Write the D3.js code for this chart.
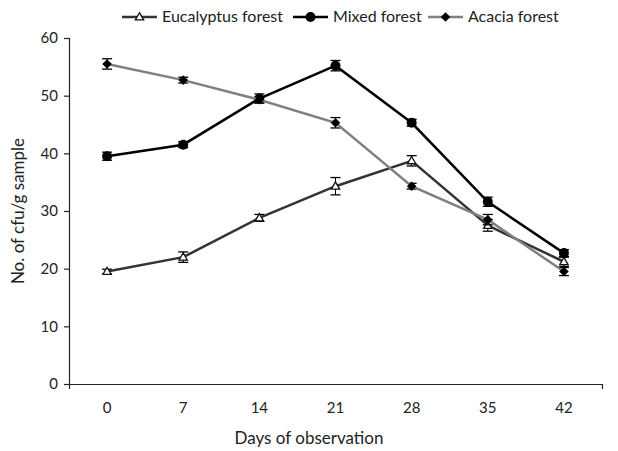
<!DOCTYPE html>
<html>
<head>
<meta charset="utf-8">
<script src="https://cdn.jsdelivr.net/npm/d3@7"></script>
<style>
  body { margin: 0; background: #fff; }
  text { font-family: Lato, "Open Sans", sans-serif; fill: #222; }
</style>
</head>
<body>
<div id="container"></div>
<script>
let w = 618;
let h = 451;

// data
let days = ['0', '7', '14', '21', '28', '35', '42'];
let eucalyptus = [19.5, 22.0, 28.8, 34.3, 38.7, 27.5, 21.2];
let eucalyptusErr = [0.4, 0.9, 0.6, 1.5, 0.9, 1.0, 0.8];
let mixed = [39.5, 41.5, 49.5, 55.2, 45.3, 31.6, 22.7];
let mixedErr = [0.7, 0.5, 0.8, 0.9, 0.6, 0.8, 0.6];
let acacia = [55.5, 52.7, 49.3, 45.3, 34.3, 28.5, 19.5];
let acaciaErr = [0.9, 0.5, 0.5, 0.9, 0.5, 0.9, 0.7];
let yTicks = [0, 10, 20, 30, 40, 50, 60];

let series = [
  {name: 'Eucalyptus forest', values: eucalyptus, err: eucalyptusErr, color: '#333333', marker: 'triangle'},
  {name: 'Mixed forest', values: mixed, err: mixedErr, color: '#000000', marker: 'circle'},
  {name: 'Acacia forest', values: acacia, err: acaciaErr, color: '#808080', marker: 'diamond'}
];

let mLeft = 69, mRight = 602, mTop = 38, mBottom = 384;

let viz = d3.select('#container').append('svg')
    .attr('width', w)
    .attr('height', h);

let x = d3.scaleBand().domain(days).range([mLeft, mRight]);
let y = d3.scaleLinear().domain([0, 60]).range([mBottom, mTop]);

// y axis
let yAxis = viz.append('g')
    .attr('transform', 'translate(' + mLeft + ',0)')
    .call(d3.axisLeft(y).tickValues(yTicks).tickSize(5).tickPadding(6));
yAxis.select('.domain').attr('stroke', '#222').attr('stroke-width', 1.2);
yAxis.selectAll('.tick line').attr('stroke', '#222').attr('stroke-width', 1.2);
yAxis.selectAll('text').attr('font-size', '15px').style('font-family', 'Lato, sans-serif').attr('fill', '#222');

// x axis
let xAxis = viz.append('g')
    .attr('transform', 'translate(0,' + mBottom + ')')
    .call(d3.axisBottom(x).tickSize(0).tickPadding(18).tickSizeOuter(5));
xAxis.select('.domain').attr('stroke', '#222').attr('stroke-width', 1.2);
xAxis.selectAll('text').attr('font-size', '15px').style('font-family', 'Lato, sans-serif').attr('fill', '#222');

// axis titles
viz.append('text')
    .text('Days of observation')
    .attr('x', 309)
    .attr('y', 444)
    .attr('text-anchor', 'middle')
    .attr('font-size', '17px');

viz.append('text')
    .text('No. of cfu/g sample')
    .attr('transform', 'translate(24,' + ((mTop + mBottom) / 2) + ') rotate(-90)')
    .attr('text-anchor', 'middle')
    .attr('font-size', '17px');

let line = d3.line()
    .x((d, i) => x(days[i]) + x.bandwidth() / 2)
    .y(d => y(d));

function drawMarker(g, type, cx, cy, color) {
  if (type === 'triangle') {
    g.append('path')
        .attr('d', d3.symbol().type(d3.symbolTriangle).size(30)())
        .attr('transform', 'translate(' + cx + ',' + (cy + 0.5) + ')')
        .attr('fill', '#fff')
        .attr('stroke', '#111')
        .attr('stroke-width', 1.3);
  } else if (type === 'circle') {
    g.append('circle')
        .attr('cx', cx).attr('cy', cy).attr('r', 5)
        .attr('fill', '#000');
  } else {
    g.append('path')
        .attr('d', d3.symbol().type(d3.symbolSquare).size(46)())
        .attr('transform', 'translate(' + cx + ',' + cy + ') rotate(45)')
        .attr('fill', '#000');
  }
}

series.forEach(s => {
  let g = viz.append('g');
  // error bars
  s.values.forEach((v, i) => {
    let cx = x(days[i]) + x.bandwidth() / 2;
    let y1 = y(v + s.err[i]), y2 = y(v - s.err[i]);
    g.append('line').attr('x1', cx).attr('x2', cx).attr('y1', y1).attr('y2', y2)
        .attr('stroke', '#000').attr('stroke-width', 1);
    [y1, y2].forEach(yy => {
      g.append('line').attr('x1', cx - 5).attr('x2', cx + 5).attr('y1', yy).attr('y2', yy)
          .attr('stroke', '#000').attr('stroke-width', 1.3);
    });
  });
  g.append('path')
      .datum(s.values)
      .attr('d', line)
      .attr('fill', 'none')
      .attr('stroke', s.color)
      .attr('stroke-width', 2.5);
  s.values.forEach((v, i) => {
    drawMarker(g, s.marker, x(days[i]) + x.bandwidth() / 2, y(v), s.color);
  });
});

// legend
let legendX = [122, 293, 428];
series.forEach((s, i) => {
  let lg = viz.append('g');
  lg.append('line')
      .attr('x1', legendX[i]).attr('x2', legendX[i] + 35)
      .attr('y1', 17).attr('y2', 17)
      .attr('stroke', s.color).attr('stroke-width', 2.5);
  drawMarker(lg, s.marker, legendX[i] + 17.5, 17, s.color);
  lg.append('text')
      .text(s.name)
      .attr('x', legendX[i] + 40)
      .attr('y', 22)
      .attr('font-size', '16px');
});
</script>
</body>
</html>
